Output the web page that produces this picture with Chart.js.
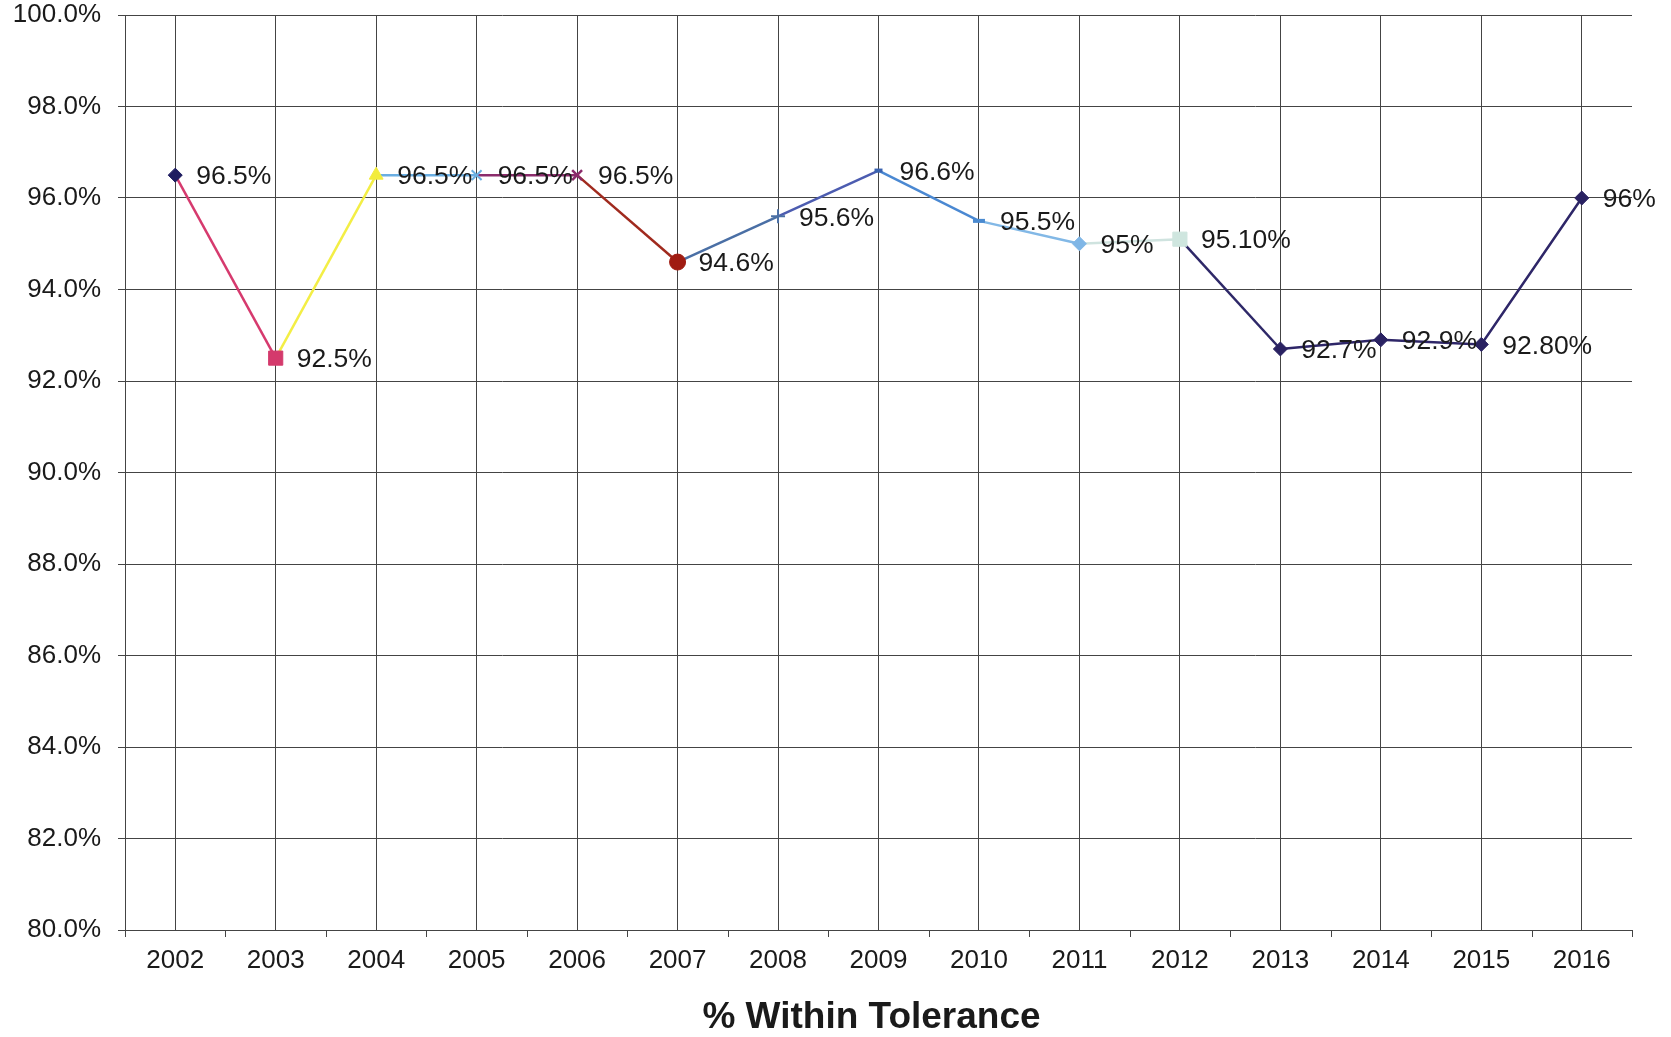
<!DOCTYPE html>
<html>
<head>
<meta charset="utf-8">
<title>% Within Tolerance</title>
<script src="https://cdn.jsdelivr.net/npm/chart.js@4/dist/chart.umd.min.js"></script>
<style>
  html, body { margin: 0; padding: 0; background: #ffffff; }
  #wrap { width: 1671px; height: 1037px; position: relative; }
  canvas { display: block; }
</style>
</head>
<body>
<div id="wrap"><canvas id="chart" width="1671" height="1037"></canvas></div>
<script>
// Yearly share of measurements within tolerance
const years = ['2002', '2003', '2004', '2005', '2006', '2007', '2008', '2009',
               '2010', '2011', '2012', '2013', '2014', '2015', '2016'];
const tolerance = [96.5, 92.5, 96.5, 96.5, 96.5, 94.6, 95.6, 96.6,
                   95.5, 95.0, 95.1, 92.7, 92.9, 92.8, 96.0];
const valueLabels = ['96.5%', '92.5%', '96.5%', '96.5%', '96.5%', '94.6%', '95.6%', '96.6%',
                     '95.5%', '95%', '95.10%', '92.7%', '92.9%', '92.80%', '96%'];
const axisTitle = '% Within Tolerance';
const yMin = 80;
const yMax = 100;
const yStep = 2;

// Colour of each line segment, keyed by the year it starts from
const segmentColors = ['#d63a6e', '#f3ee45', '#6aaee2', '#8c2c6c', '#a02a1e', '#4a6fa5', '#4c5cb0',
                       '#4a88d2', '#82b8e6', '#cfe3df', '#2e2868', '#2e2668', '#2e2668', '#2e2668'];
// Marker look of each year
const markerStyles = ['rectRot', 'rect', 'triangle', 'crossRot', 'crossRot', 'circle', 'cross', 'line',
                      'line', 'rectRot', 'rect', 'rectRot', 'rectRot', 'rectRot', 'rectRot'];
const markerColors = ['#1e1c60', '#d43a6c', '#f2ec3c', '#6aaee0', '#8a2a6a', '#a01c12', '#4a6fa5', '#3a63b0',
                      '#4a8ad0', '#7fb6e6', '#cfe6df', '#2a2262', '#2a2262', '#2a2262', '#2a2262'];
const markerRadius = [7, 10, 8, 7, 7, 8, 7, 4, 6, 7, 10, 7, 7, 7, 7];
const markerBorder = [1, 1, 1, 2, 2.5, 1, 2, 4, 4, 1, 1, 1, 1, 1, 1];

const FONT = '"Liberation Sans", Arial, Helvetica, sans-serif';
const TEXT = '#1a1a1a';
const GRID = '#444444';

// Short tick marks between the year categories, below the x axis
const boundaryTicks = {
  id: 'boundaryTicks',
  afterDraw(chart) {
    const x = chart.scales.x;
    const ctx = chart.ctx;
    const n = years.length;
    const step = x.width / n;
    ctx.save();
    ctx.strokeStyle = GRID;
    ctx.lineWidth = 1;
    ctx.beginPath();
    for (let i = 0; i <= n; i++) {
      const px = Math.round(x.left + i * step) + 0.5;
      ctx.moveTo(px, x.top);
      ctx.lineTo(px, x.top + 7);
    }
    ctx.stroke();
    ctx.restore();
  }
};

// Value text to the right of each marker
const valueText = {
  id: 'valueText',
  afterDatasetsDraw(chart) {
    const meta = chart.getDatasetMeta(0);
    const ctx = chart.ctx;
    ctx.save();
    ctx.font = '26.5px ' + FONT;
    ctx.fillStyle = TEXT;
    ctx.textAlign = 'left';
    ctx.textBaseline = 'middle';
    meta.data.forEach((pt, i) => {
      ctx.fillText(valueLabels[i], pt.x + 21, pt.y + 2);
    });
    ctx.restore();
  }
};

// Bold caption under the year axis
const captionText = {
  id: 'captionText',
  afterDraw(chart) {
    const area = chart.chartArea;
    const ctx = chart.ctx;
    ctx.save();
    ctx.font = 'bold 37px ' + FONT;
    ctx.fillStyle = TEXT;
    ctx.textAlign = 'center';
    ctx.textBaseline = 'middle';
    ctx.fillText(axisTitle, (area.left + area.right) / 2 - 7, 1018);
    ctx.restore();
  }
};

new Chart(document.getElementById('chart'), {
  type: 'line',
  data: {
    labels: years,
    datasets: [{
      data: tolerance,
      borderWidth: 2.5,
      borderColor: segmentColors[0],
      segment: { borderColor: c => segmentColors[c.p0DataIndex] },
      pointStyle: markerStyles,
      pointBackgroundColor: markerColors,
      pointBorderColor: markerColors,
      pointRadius: markerRadius,
      pointBorderWidth: markerBorder,
      pointHoverRadius: markerRadius,
      tension: 0,
      fill: false
    }]
  },
  options: {
    responsive: false,
    animation: false,
    devicePixelRatio: 1,
    layout: { padding: { top: 15, right: 39, bottom: 0, left: 0 } },
    plugins: {
      legend: { display: false },
      tooltip: { enabled: false },
      title: { display: false }
    },
    scales: {
      x: {
        offset: true,
        grid: { offset: false, drawTicks: false, color: GRID, lineWidth: 1 },
        border: { color: GRID, width: 1 },
        ticks: { color: TEXT, font: { family: FONT, size: 26 }, padding: 15, maxRotation: 0, autoSkip: false },
        afterFit(scale) { scale.height = 107; }
      },
      y: {
        min: yMin,
        max: yMax,
        grid: { color: GRID, lineWidth: 1, drawTicks: true, tickLength: 7 },
        border: { color: GRID, width: 1 },
        ticks: {
          stepSize: yStep,
          color: TEXT,
          font: { family: FONT, size: 26 },
          padding: 17,
          callback: v => v.toFixed(1) + '%'
        },
        afterFit(scale) {
          scale.width = 125;
          scale.paddingTop = 0;
          scale.paddingBottom = 0;
        }
      }
    }
  },
  plugins: [boundaryTicks, valueText, captionText]
});
</script>
</body>
</html>
